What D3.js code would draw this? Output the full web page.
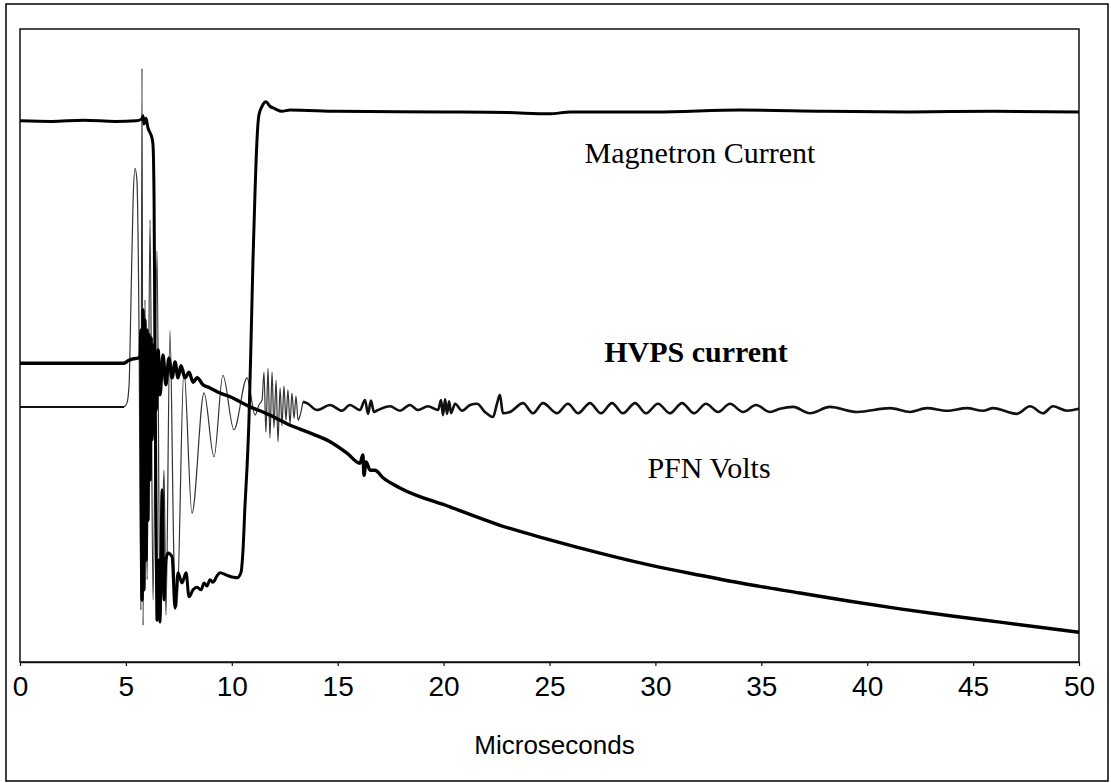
<!DOCTYPE html>
<html>
<head>
<meta charset="utf-8">
<script src="https://cdn.jsdelivr.net/npm/d3@7"></script>
<style>
  body { margin: 0; background: #fff; }
  svg { display: block; }
</style>
</head>
<body>
<div id="chart"></div>
<script>
// Oscilloscope traces. Time in microseconds, value in % of screen height.
const xTicks = [0, 5, 10, 15, 20, 25, 30, 35, 40, 45, 50];
const xLabel = "Microseconds";
const seriesLabels = ["Magnetron Current", "HVPS current", "PFN Volts"];

const magnetron = [
	[0, 85.5], [1.5, 85.4], [3, 85.6], [4.5, 85.4], [5.5, 85.5], [5.76, 85.8], [5.81, 86.3], [5.85, 85.0],
	[5.95, 85.9], [6.04, 84.4], [6.14, 83.6], [6.23, 82.8], [6.28, 81.7], [6.33, 73.0], [6.37, 49.3],
	[6.42, 25.6], [6.47, 6.6], [6.56, 16.1], [6.61, 6.3], [6.71, 27.2], [6.80, 9.8], [6.89, 16.1],
	[6.99, 17.2], [7.18, 16.6], [7.32, 8.5], [7.46, 14.1], [7.65, 12.5], [7.84, 14.1], [7.98, 10.3],
	[8.17, 11.4], [8.36, 11.8], [8.55, 11.4], [8.69, 12.5], [8.83, 12.0], [8.97, 13.0], [9.11, 12.6],
	[9.30, 13.6], [9.44, 14.1], [9.77, 13.7], [10.06, 13.4], [10.25, 13.3], [10.43, 14.1], [10.53, 17.7],
	[10.62, 24.5], [10.72, 30.8], [10.81, 38.2], [10.91, 50.9], [11.00, 63.5], [11.10, 74.6], [11.19, 82.5],
	[11.28, 86.4], [11.43, 87.8], [11.61, 88.5], [11.80, 87.8], [12.04, 87.4], [12.37, 87.0], [12.75, 87.2],
	[15, 87.0], [20, 86.9], [23, 86.8], [25, 86.6], [26, 86.9], [30, 86.9], [34, 87.2], [38, 87.0],
	[42, 86.9], [46, 87.0], [50, 86.9]
];

const hvps = [
	[0, 40.3], [2, 40.3], [4, 40.3], [4.91, 40.3], [5.05, 40.9], [5.15, 43.8], [5.24, 57.2], [5.34, 73.0],
	[5.43, 78.0], [5.52, 76.1], [5.62, 52.4], [5.71, 8.2], [5.76, 93.8], [5.81, 5.8], [5.90, 57.2],
	[6.00, 13.0], [6.14, 69.8], [6.28, 9.8], [6.47, 64.9], [6.61, 6.3], [6.80, 30.3], [6.89, 7.4],
	[7.08, 52.4], [7.27, 16.1], [7.41, 8.7], [7.74, 46.1], [8.12, 23.5], [8.69, 42.5], [9.16, 32.4],
	[9.58, 45.3], [10.10, 36.7], [10.72, 44.9], [11.10, 39.0], [11.28, 40.6], [11.43, 41.4], [11.52, 45.8],
	[11.61, 36.3], [11.71, 46.4], [11.80, 35.4], [11.90, 45.8], [11.99, 37.0], [12.09, 44.5], [12.18, 34.8],
	[12.28, 43.3], [12.37, 37.3], [12.46, 43.6], [12.56, 38.2], [12.65, 43.0], [12.75, 37.6], [12.84, 42.5],
	[12.94, 38.5], [13.03, 42.0], [13.13, 38.2], [13.22, 38.9], [13.36, 41.1], [13.55, 40.9], [14.02, 39.8],
	[14.64, 40.6], [15.20, 39.7], [15.58, 40.6], [16.05, 39.8], [16.29, 41.4], [16.43, 39.2], [16.57, 41.3],
	[16.71, 39.5], [16.90, 39.8], [17.47, 40.4], [17.94, 39.7], [18.41, 40.6], [18.79, 39.8], [19.26, 40.4],
	[19.74, 39.8], [19.88, 41.4], [19.97, 39.0], [20.07, 41.5], [20.16, 39.2], [20.26, 41.2], [20.35, 39.3],
	[20.54, 40.8], [20.87, 39.7], [21.25, 40.6], [21.58, 40.8], [21.95, 39.5], [22.33, 38.7], [22.52, 40.8],
	[22.66, 42.2], [22.80, 39.3], [23.13, 39.5], [23.75, 40.9], [24.22, 39.3], [24.69, 40.9], [25.35, 39.3],
	[25.87, 40.8], [26.35, 39.3], [26.91, 40.9], [27.43, 39.3], [27.95, 40.9], [28.47, 39.3], [29.04, 40.9],
	[29.56, 39.3], [30.12, 40.8], [30.69, 39.3], [31.26, 40.9], [31.82, 39.3], [32.39, 40.8], [32.96, 39.5],
	[33.52, 40.8], [34.14, 39.5], [34.75, 40.6], [35.41, 39.5], [35.88, 40.0], [36.50, 40.3], [37.30, 39.3],
	[38.24, 40.3], [39.52, 39.5], [41.08, 40.1], [42.02, 39.5], [42.82, 40.1], [43.77, 39.7], [44.71, 40.1],
	[45.47, 39.7], [45.94, 40.1], [47.07, 39.2], [47.69, 40.4], [48.30, 39.3], [48.77, 40.4], [49.43, 39.7],
	[50, 40.0]
];

const pfn = [
	[0, 47.2], [2, 47.2], [4, 47.2], [4.91, 47.2], [5.10, 47.6], [5.34, 47.9], [5.57, 48.0], [5.67, 48.3],
	[5.71, 52.4], [5.76, 9.8], [5.81, 55.6], [5.85, 11.4], [5.90, 54.0], [5.95, 16.1], [6.00, 52.4],
	[6.04, 22.4], [6.09, 51.7], [6.14, 28.8], [6.19, 51.2], [6.23, 35.1], [6.33, 50.1], [6.42, 39.8],
	[6.52, 49.3], [6.61, 42.2], [6.75, 48.5], [6.89, 43.8], [7.03, 48.0], [7.18, 44.9], [7.32, 47.4],
	[7.46, 44.9], [7.60, 46.8], [7.79, 44.9], [7.98, 45.8], [8.17, 44.2], [8.36, 44.9], [8.64, 43.8],
	[8.97, 43.3], [9.44, 42.5], [9.92, 41.9], [10.39, 41.1], [10.86, 40.3], [11.33, 39.7], [11.80, 39.0],
	[12.28, 38.2], [12.75, 37.4], [13.22, 36.8], [13.83, 36.0], [14.64, 34.8], [15.44, 33.0], [16.05, 31.4],
	[16.19, 32.7], [16.24, 29.5], [16.34, 31.6], [16.53, 30.3], [16.76, 30.3], [17.14, 29.1], [17.94, 27.5],
	[20.30, 24.5], [22.66, 21.6], [25.02, 19.3], [27.38, 17.2], [29.75, 15.3], [32.11, 13.7], [34.47, 12.2],
	[36.83, 10.9], [39.19, 9.6], [41.55, 8.4], [43.91, 7.3], [46.27, 6.3], [50, 4.7]
];

const width = 1111, height = 783;
const plot = {left: 20, right: 1079, top: 29, bottom: 662};

const svg = d3.select("#chart")
	.append("svg")
	.attr("width", width)
	.attr("height", height);

// outer frame
svg.append("rect")
	.attr("x", 6).attr("y", 4)
	.attr("width", 1102).attr("height", 777)
	.attr("fill", "none").attr("stroke", "#000").attr("stroke-width", 1.5);

const x = d3.scaleLinear().domain([0, 50]).range([plot.left, plot.right]);
const y = d3.scaleLinear().domain([0, 100]).range([plot.bottom, plot.top]);

// plot frame
svg.append("rect")
	.attr("x", plot.left).attr("y", plot.top)
	.attr("width", plot.right - plot.left).attr("height", plot.bottom - plot.top)
	.attr("fill", "none").attr("stroke", "#111").attr("stroke-width", 1.5);

const line = d3.line()
	.x(d => x(d[0]))
	.y(d => y(d[1]))
	.curve(d3.curveMonotoneX);

const g = svg.append("g");

// the fast ringing part of the HVPS trace is drawn thin, as on the scope
const hvpsEarly = hvps.filter(d => d[0] <= 4.91);
const hvpsRing = hvps.filter(d => d[0] >= 4.91 && d[0] <= 13.36);
const hvpsLate = hvps.filter(d => d[0] >= 13.36);

g.append("path").attr("d", line(hvpsRing))
	.attr("fill", "none").attr("stroke", "#333").attr("stroke-width", 1.2);
g.append("path").attr("d", line(hvpsEarly))
	.attr("fill", "none").attr("stroke", "#111").attr("stroke-width", 2);
g.append("path").attr("d", line(hvpsLate))
	.attr("fill", "none").attr("stroke", "#111").attr("stroke-width", 2.6);

g.append("path").attr("d", line(magnetron))
	.attr("fill", "none").attr("stroke", "#000").attr("stroke-width", 3)
	.attr("stroke-linejoin", "round");

g.append("path").attr("d", line(pfn))
	.attr("fill", "none").attr("stroke", "#000").attr("stroke-width", 3.4)
	.attr("stroke-linejoin", "round");

// x axis
const axis = svg.append("g")
	.attr("transform", `translate(0,${plot.bottom})`)
	.call(d3.axisBottom(x).tickValues(xTicks).tickSize(4).tickPadding(10).tickSizeOuter(0));
axis.select(".domain").attr("stroke", "#111").attr("stroke-width", 1.5);
axis.selectAll(".tick line").attr("stroke", "#111").attr("stroke-width", 1.2);
axis.selectAll(".tick text")
	.attr("fill", "#000")
	.style("font-family", "'Liberation Sans', Arial, sans-serif")
	.style("font-size", "28px");

svg.append("text")
	.attr("x", (plot.left + plot.right) / 2 + 5)
	.attr("y", 754)
	.attr("text-anchor", "middle")
	.style("font-family", "'Liberation Sans', Arial, sans-serif")
	.style("font-size", "26px")
	.text(xLabel);

// trace labels
const labelPos = [[700, 163, "normal"], [696, 362, "bold"], [709, 478, "normal"]];
seriesLabels.forEach((s, i) => {
	svg.append("text")
		.attr("x", labelPos[i][0])
		.attr("y", labelPos[i][1])
		.attr("text-anchor", "middle")
		.style("font-family", "'Liberation Serif', 'Times New Roman', serif")
		.style("font-size", "30px")
		.style("font-weight", labelPos[i][2])
		.text(s);
});
</script>
</body>
</html>
